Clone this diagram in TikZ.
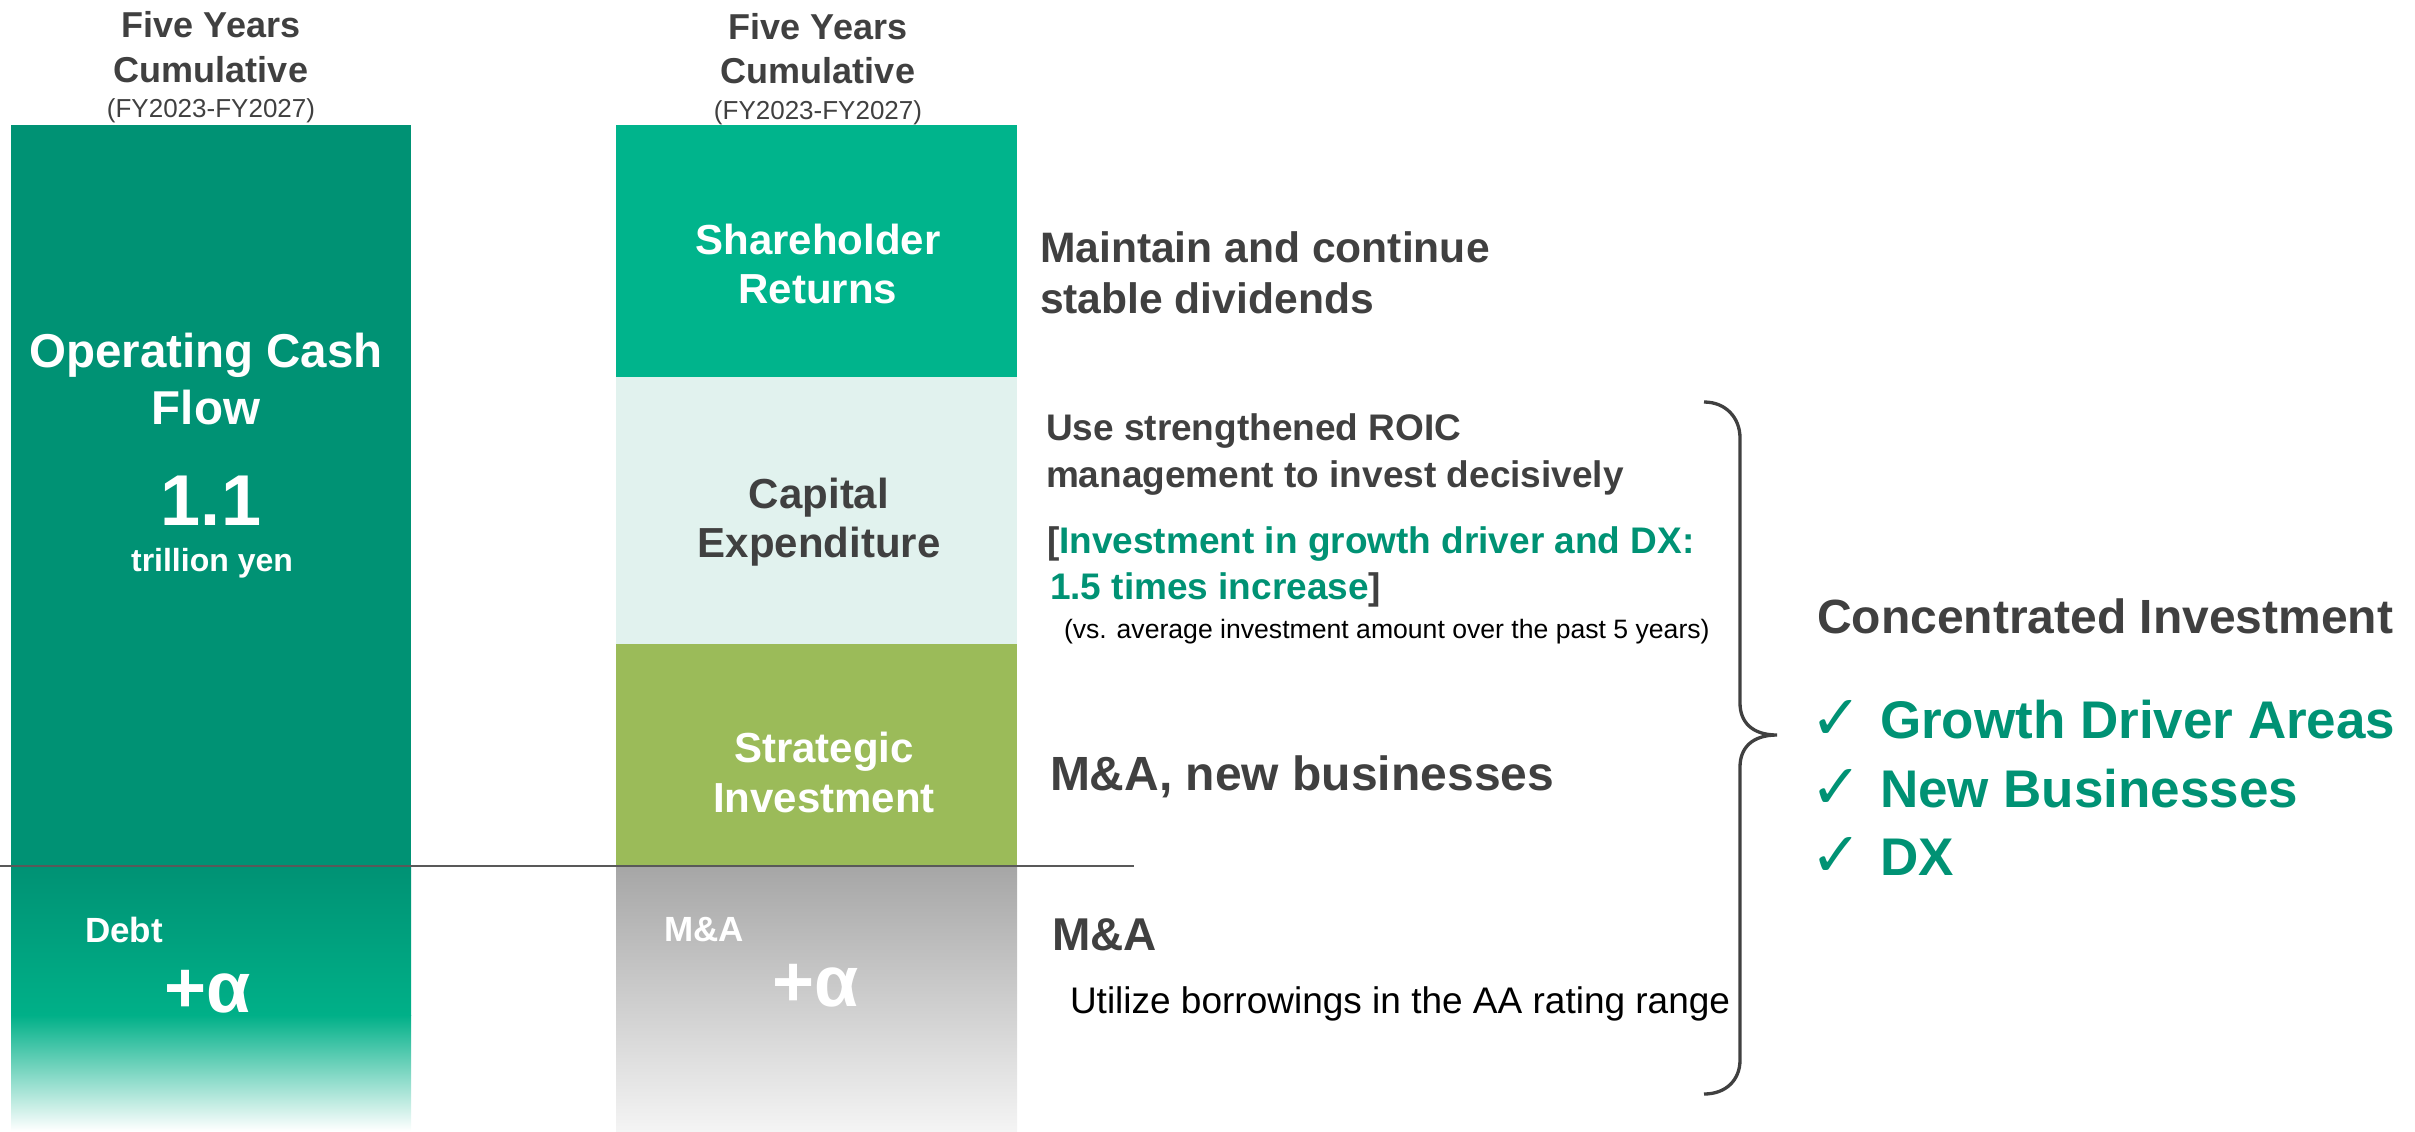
\documentclass[tikz,border=0pt]{standalone}
\usepackage{fontspec}
\setmainfont{Liberation Sans}
\newfontfamily\symfont{DejaVu Sans}
\definecolor{ocf}{HTML}{009274}
\definecolor{ocfb}{HTML}{00B088}
\definecolor{shr}{HTML}{00B48C}
\definecolor{capx}{HTML}{E1F2EE}
\definecolor{strat}{HTML}{9BBB59}
\definecolor{txt}{HTML}{404040}
\definecolor{grn}{HTML}{009274}
\definecolor{gtop}{HTML}{A6A6A6}
\definecolor{gbot}{HTML}{F4F4F4}
\definecolor{rule}{HTML}{595959}
\newcommand\fsz[1]{\fontsize{#1}{#1}\selectfont}
\tikzset{
  barbox/.style={rectangle, draw=none, inner sep=0pt, outer sep=0pt},
  lbl/.style={inner sep=0pt, outer sep=0pt, anchor=base},
  lblw/.style={inner sep=0pt, outer sep=0pt, anchor=base west},
  hdr/.style={lbl, text=txt, font=\fsz{18}\bfseries},
  hdrsub/.style={lbl, text=txt, font=\fsz{13}},
  wbox/.style={lbl, text=white, font=\fsz{21}\bfseries},
  gbox/.style={lbl, text=txt, font=\fsz{21}\bfseries},
  note/.style={lblw, text=txt, font=\fsz{18.5}\bfseries},
  item/.style={lblw, text=grn, font=\fsz{26.5}\bfseries},
  chk/.style={lblw, text=grn, font=\symfont\fsz{31}},
}
\begin{document}
\begin{tikzpicture}[x=0.5pt,y=-0.5pt]
\useasboundingbox (0,0) rectangle (2415,1131);
% left column
\node[barbox, fill=ocf, minimum width=200pt, minimum height=370.5pt] (ocfbox) at (211,495.5) {};
\node[barbox, minimum width=200pt, minimum height=74.5pt, top color=ocf, bottom color=ocfb] (debtA) at (211,940.5) {};
\node[barbox, minimum width=200pt, minimum height=58pt, top color=ocfb, bottom color=white] (debtB) at (211,1073) {};
% right column
\node[barbox, fill=shr, minimum width=200.5pt, minimum height=126pt] (shbox) at (816.5,251) {};
\node[barbox, fill=capx, minimum width=200.5pt, minimum height=133.5pt] (cxbox) at (816.5,510.5) {};
\node[barbox, fill=strat, minimum width=200.5pt, minimum height=111pt] (stbox) at (816.5,755) {};
\node[barbox, minimum width=200.5pt, minimum height=132.5pt, top color=gtop, bottom color=gbot] (mabox) at (816.5,998.5) {};
% divider line
\coordinate (l0) at (0,866);
\coordinate (l1) at (1134,866);
\draw[line width=1pt, rule] (l0) -- (l1);
% headers
\node[hdr] (h1a) at (211,37) {Five Years};
\node[hdr] (h1b) at (211,82) {Cumulative};
\node[hdrsub] (h1c) at (211,117) {(FY2023-FY2027)};
\node[hdr] (h2a) at (818,39) {Five Years};
\node[hdr] (h2b) at (818,83) {Cumulative};
\node[hdrsub] (h2c) at (818,119) {(FY2023-FY2027)};
% left column texts
\node[lbl, text=white, font=\fsz{23.75}\bfseries] (o1) at (206,367) {Operating Cash};
\node[lbl, text=white, font=\fsz{23.75}\bfseries] (o2) at (206,424) {Flow};
\node[lbl, text=white, font=\fsz{36}\bfseries] (o3) at (211,525) {1.1};
\node[lbl, text=white, font=\fsz{16}\bfseries] (o4) at (212,571) {trillion yen};
\node[lblw, text=white, font=\fsz{17.5}\bfseries] (d1) at (85,942) {Debt};
\node[lbl, text=white, font=\fsz{36}\bfseries] (d2) at (208,1012) {+α};
% right column texts
\node[wbox] (s1) at (818,254) {Shareholder};
\node[wbox] (s2) at (818,303) {Returns};
\node[gbox] (c1) at (819,508) {Capital};
\node[gbox] (c2) at (819,557) {Expenditure};
\node[wbox] (t1) at (824,762) {Strategic};
\node[wbox] (t2) at (824,812) {Investment};
\node[lblw, text=white, font=\fsz{17.5}\bfseries] (m1) at (664,941) {M\&A};
\node[lbl, text=white, font=\fsz{36}\bfseries] (m2) at (816,1006) {+α};
% descriptions
\node[lblw, text=txt, font=\fsz{21.3}\bfseries] (r1) at (1040,262) {Maintain and continue};
\node[lblw, text=txt, font=\fsz{21.3}\bfseries] (r2) at (1040,313) {stable dividends};
\node[note] (u1) at (1046,440) {Use strengthened ROIC};
\node[note] (u2) at (1046,487) {management to invest decisively};
\node[note] (u3) at (1047,553) {[{\color{grn}Investment in growth driver and DX:}};
\node[note] (u4) at (1050,599) {{\color{grn}1.5 times increase}]};
\node[lblw, text=black, font=\fsz{13.3}] (u5) at (1064,638) {(vs. average investment amount over the past 5 years)};
\node[lblw, text=txt, font=\fsz{24}\bfseries] (n1) at (1050,790) {M\&A, new businesses};
\node[lblw, text=txt, font=\fsz{23}\bfseries] (b1) at (1052,950) {M\&A};
\node[lblw, text=black, font=\fsz{18.5}] (b2) at (1070,1013) {Utilize borrowings in the AA rating range};
% brace
\coordinate (bA) at (1704,402);
\coordinate (bB) at (1740,438);
\coordinate (bC) at (1740,703);
\coordinate (bT) at (1777,735);
\coordinate (bD) at (1740,767);
\coordinate (bE) at (1740,1060);
\coordinate (bF) at (1704,1094);
\draw[line width=1.65pt, txt]
  (bA) .. controls (1726,402) and (1740,418) .. (bB) -- (bC)
  .. controls (1740,722) and (1752,735) .. (bT)
  .. controls (1752,735) and (1740,748) .. (bD) -- (bE)
  .. controls (1740,1080) and (1726,1094) .. (bF);
% concentrated investment
\node[lblw, text=txt, font=\fsz{24}\bfseries] (ci) at (1817,633) {Concentrated Investment};
\node[chk] (k1) at (1810,739) {✓};
\node[chk] (k2) at (1810,808) {✓};
\node[chk] (k3) at (1810,876) {✓};
\node[item] (g1) at (1880,738) {Growth Driver Areas};
\node[item] (g2) at (1880,807) {New Businesses};
\node[item] (g3) at (1880,875) {DX};
\end{tikzpicture}
\end{document}
